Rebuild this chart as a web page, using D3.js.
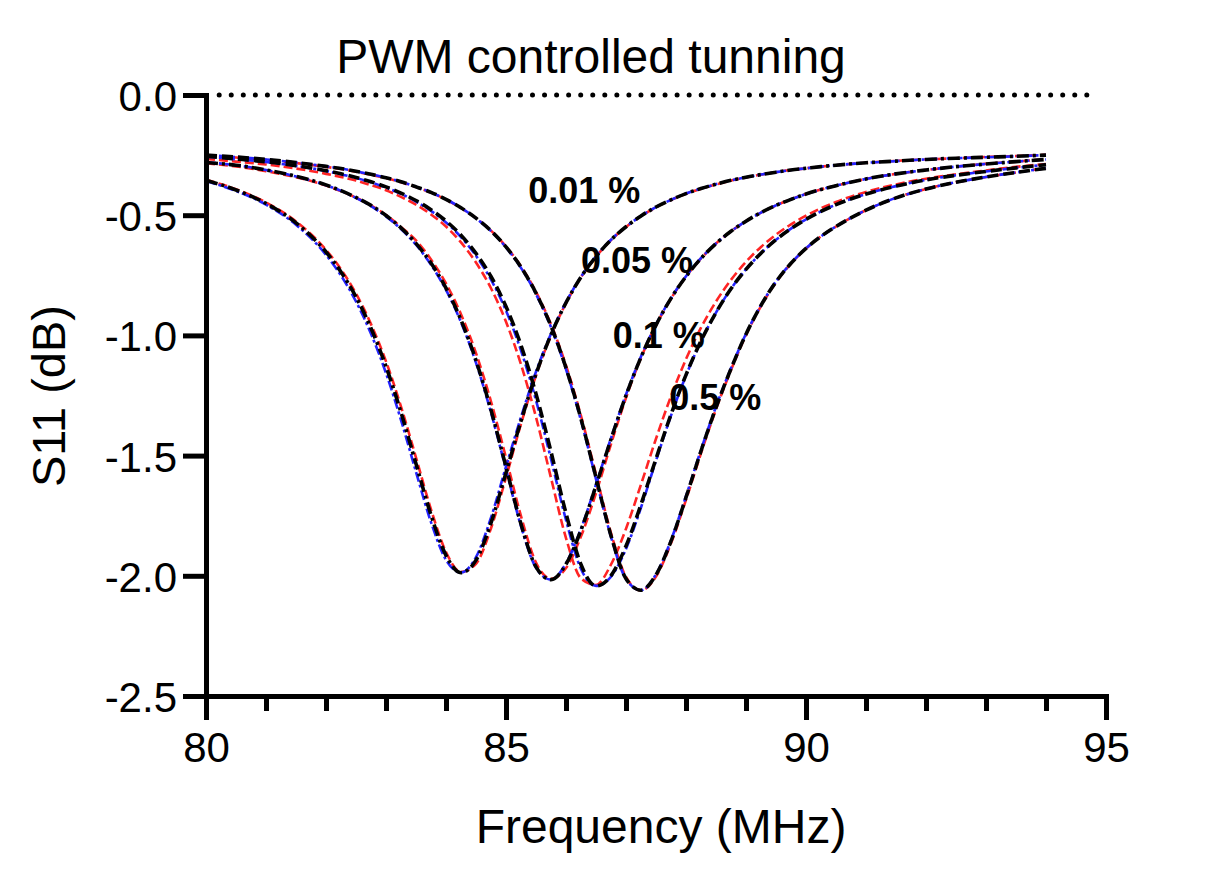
<!DOCTYPE html>
<html>
<head>
<meta charset="utf-8">
<script src="https://cdn.jsdelivr.net/npm/d3@7"></script>
<style>
  body { margin: 0; background: #fff; }
  svg { display: block; font-family: "Liberation Sans", Arial, Helvetica, sans-serif; }
</style>
</head>
<body>
<script>
// frequency grid (MHz), denser around the dips
const freq = [80, 80.5, 81, 81.5, 82, 82.25, 82.5, 82.75, 83, 83.25, 83.5, 83.75, 84, 84.25, 84.5, 84.75,
  85, 85.25, 85.5, 85.75, 86, 86.25, 86.5, 86.75, 87, 87.25, 87.5, 87.75, 88, 88.25, 88.5, 88.75,
  89, 89.25, 89.5, 89.75, 90, 90.25, 90.5, 91, 91.5, 92, 92.5, 93, 93.5, 94];

// S11 (dB)
const pwm001Black = [-0.355, -0.395, -0.451, -0.532, -0.653, -0.736, -0.840, -0.970, -1.129, -1.320, -1.534, -1.747, -1.915, -1.987, -1.935, -1.780,
  -1.571, -1.356, -1.161, -0.997, -0.864, -0.757, -0.672, -0.603, -0.548, -0.503, -0.466, -0.436, -0.410, -0.389, -0.371, -0.355,
  -0.342, -0.331, -0.321, -0.312, -0.305, -0.298, -0.292, -0.282, -0.275, -0.268, -0.263, -0.259, -0.255, -0.250];
const pwm001Blue = [-0.358, -0.399, -0.456, -0.540, -0.665, -0.751, -0.859, -0.993, -1.157, -1.352, -1.568, -1.777, -1.934, -1.986, -1.922, -1.758,
  -1.546, -1.340, -1.151, -0.993, -0.862, -0.756, -0.671, -0.602, -0.548, -0.503, -0.466, -0.436, -0.410, -0.389, -0.371, -0.355,
  -0.342, -0.331, -0.321, -0.312, -0.305, -0.298, -0.292, -0.282, -0.275, -0.268, -0.263, -0.259, -0.255, -0.250];
const pwm001Red = [-0.353, -0.392, -0.447, -0.526, -0.644, -0.725, -0.826, -0.953, -1.108, -1.296, -1.508, -1.724, -1.901, -1.984, -1.950, -1.802,
  -1.591, -1.368, -1.166, -1.000, -0.866, -0.758, -0.673, -0.604, -0.549, -0.504, -0.467, -0.437, -0.411, -0.390, -0.372, -0.356,
  -0.343, -0.331, -0.321, -0.312, -0.305, -0.298, -0.292, -0.282, -0.274, -0.268, -0.263, -0.258, -0.254, -0.249];

const pwm005Black = [-0.281, -0.292, -0.312, -0.338, -0.374, -0.398, -0.426, -0.459, -0.501, -0.553, -0.617, -0.699, -0.803, -0.936, -1.104, -1.310,
  -1.547, -1.785, -1.963, -2.016, -1.952, -1.810, -1.626, -1.432, -1.250, -1.091, -0.957, -0.846, -0.755, -0.680, -0.618, -0.567,
  -0.525, -0.489, -0.459, -0.434, -0.412, -0.393, -0.377, -0.349, -0.328, -0.312, -0.298, -0.287, -0.277, -0.268];
const pwm005Blue = [-0.280, -0.292, -0.312, -0.339, -0.375, -0.399, -0.428, -0.462, -0.505, -0.558, -0.623, -0.706, -0.811, -0.945, -1.114, -1.321,
  -1.557, -1.793, -1.967, -2.016, -1.948, -1.804, -1.620, -1.427, -1.246, -1.088, -0.955, -0.845, -0.754, -0.679, -0.618, -0.567,
  -0.525, -0.489, -0.459, -0.434, -0.412, -0.393, -0.377, -0.349, -0.328, -0.312, -0.298, -0.287, -0.277, -0.268];
const pwm005Red = [-0.284, -0.297, -0.317, -0.342, -0.377, -0.400, -0.427, -0.459, -0.499, -0.549, -0.605, -0.684, -0.784, -0.912, -1.074, -1.275,
  -1.509, -1.752, -1.945, -2.012, -1.968, -1.836, -1.656, -1.452, -1.260, -1.093, -0.958, -0.847, -0.755, -0.680, -0.618, -0.567,
  -0.525, -0.489, -0.459, -0.434, -0.412, -0.393, -0.377, -0.349, -0.328, -0.312, -0.298, -0.286, -0.277, -0.267];

const pwm01Black = [-0.255, -0.266, -0.278, -0.294, -0.315, -0.328, -0.343, -0.361, -0.382, -0.408, -0.439, -0.477, -0.524, -0.583, -0.659, -0.755,
  -0.880, -1.041, -1.243, -1.484, -1.740, -1.953, -2.042, -1.999, -1.876, -1.703, -1.513, -1.329, -1.164, -1.023, -0.905, -0.806,
  -0.725, -0.658, -0.602, -0.556, -0.517, -0.484, -0.456, -0.412, -0.379, -0.353, -0.334, -0.318, -0.303, -0.290];
const pwm01Blue = [-0.256, -0.267, -0.279, -0.295, -0.316, -0.330, -0.345, -0.363, -0.385, -0.411, -0.443, -0.482, -0.530, -0.591, -0.669, -0.768,
  -0.897, -1.063, -1.270, -1.514, -1.768, -1.972, -2.042, -2.004, -1.888, -1.716, -1.521, -1.334, -1.167, -1.024, -0.905, -0.806,
  -0.725, -0.658, -0.602, -0.556, -0.517, -0.484, -0.456, -0.412, -0.379, -0.353, -0.334, -0.318, -0.303, -0.290];
const pwm01Red = [-0.266, -0.277, -0.289, -0.306, -0.328, -0.341, -0.356, -0.375, -0.396, -0.424, -0.456, -0.497, -0.547, -0.613, -0.697, -0.804,
  -0.943, -1.121, -1.340, -1.593, -1.843, -2.011, -2.038, -1.953, -1.804, -1.620, -1.430, -1.253, -1.099, -0.968, -0.859, -0.769,
  -0.694, -0.632, -0.581, -0.538, -0.502, -0.471, -0.445, -0.403, -0.372, -0.348, -0.330, -0.314, -0.299, -0.287];

const pwm05Black = [-0.250, -0.258, -0.268, -0.281, -0.297, -0.306, -0.317, -0.330, -0.344, -0.361, -0.382, -0.405, -0.434, -0.469, -0.512, -0.565,
  -0.632, -0.716, -0.824, -0.961, -1.135, -1.347, -1.591, -1.833, -2.012, -2.060, -1.996, -1.856, -1.674, -1.481, -1.300, -1.139,
  -0.995, -0.875, -0.777, -0.700, -0.638, -0.588, -0.547, -0.479, -0.428, -0.391, -0.363, -0.341, -0.322, -0.305];
const pwm05Blue = [-0.250, -0.258, -0.268, -0.281, -0.297, -0.306, -0.317, -0.330, -0.344, -0.361, -0.382, -0.405, -0.434, -0.469, -0.513, -0.566,
  -0.634, -0.719, -0.828, -0.966, -1.141, -1.354, -1.598, -1.838, -2.014, -2.060, -1.994, -1.852, -1.669, -1.476, -1.296, -1.136,
  -0.993, -0.874, -0.776, -0.700, -0.638, -0.588, -0.547, -0.479, -0.428, -0.391, -0.363, -0.341, -0.322, -0.305];
const pwm05Red = [-0.252, -0.260, -0.270, -0.283, -0.299, -0.308, -0.319, -0.332, -0.346, -0.363, -0.383, -0.406, -0.435, -0.470, -0.512, -0.564,
  -0.630, -0.713, -0.819, -0.954, -1.125, -1.335, -1.578, -1.822, -2.005, -2.061, -2.003, -1.865, -1.684, -1.490, -1.307, -1.144,
  -0.999, -0.878, -0.779, -0.701, -0.639, -0.588, -0.547, -0.479, -0.428, -0.391, -0.363, -0.341, -0.322, -0.304];

// duty-cycle labels placed next to the curves: [text, MHz, dB]
const dutyLabels = [["0.01 %", 85.37, -0.45], ["0.05 %", 86.25, -0.742], ["0.1 %", 86.78, -1.054], ["0.5 %", 87.72, -1.31]];

const yTicks = [0, -0.5, -1, -1.5, -2, -2.5];
const yTickLabels = ["0.0", "-0.5", "-1.0", "-1.5", "-2.0", "-2.5"];
const xTicks = [80, 85, 90, 95];
const xMinorTicks = [81, 82, 83, 84, 86, 87, 88, 89, 91, 92, 93, 94];
const zeroLine = [[80.22, 0], [94.88, 0]];

const width = 1221, height = 880;

const svg = d3.select("body").append("svg")
  .attr("width", width)
  .attr("height", height);

const x = d3.scaleLinear().domain([80, 95]).range([206, 1106]);
const y = d3.scaleLinear().domain([-2.5, 0]).range([696, 95]);

const red = "#ff2424", blue = "#2323ff";
const series = [
  { values: pwm001Red, color: red, dash: "9 4", w: 2.6 },
  { values: pwm005Red, color: red, dash: "9 4", w: 2.6 },
  { values: pwm01Red, color: red, dash: "9 4", w: 2.6 },
  { values: pwm05Red, color: red, dash: "9 4", w: 2.6 },
  { values: pwm001Blue, color: blue, dash: "10 3 3 3", w: 2.6 },
  { values: pwm005Blue, color: blue, dash: "10 3 3 3", w: 2.6 },
  { values: pwm01Blue, color: blue, dash: "10 3 3 3", w: 2.6 },
  { values: pwm05Blue, color: blue, dash: "10 3 3 3", w: 2.6 },
  { values: pwm001Black, color: "#000", dash: "12 4 3 4", w: 3.6 },
  { values: pwm005Black, color: "#000", dash: "12 4 3 4", w: 3.6 },
  { values: pwm01Black, color: "#000", dash: "11 5", w: 3.6 },
  { values: pwm05Black, color: "#000", dash: "11 5", w: 3.6 },
];

const line = d3.line()
  .x(d => x(d[0]))
  .y(d => y(d[1]))
  .curve(d3.curveMonotoneX);

// dotted 0 dB reference
svg.append("path")
  .attr("d", line(zeroLine))
  .attr("fill", "none")
  .attr("stroke", "#000")
  .attr("stroke-width", 5)
  .attr("stroke-linecap", "round")
  .attr("stroke-dasharray", "0 12.05");

svg.append("g")
  .selectAll("path")
  .data(series)
  .join("path")
  .attr("d", d => line(freq.map((f, i) => [f, d.values[i]])))
  .attr("fill", "none")
  .attr("stroke", d => d.color)
  .attr("stroke-width", d => d.w)
  .attr("stroke-dasharray", d => d.dash);

// axes
const yAxis = svg.append("g")
  .attr("transform", `translate(${x(80)},0)`)
  .call(d3.axisLeft(y).tickValues(yTicks).tickSize(23).tickSizeOuter(0).tickPadding(6)
    .tickFormat((d, i) => yTickLabels[i]));

const xMinor = svg.append("g")
  .attr("transform", `translate(0,${y(-2.5)})`)
  .call(d3.axisBottom(x).tickValues(xMinorTicks).tickSize(15).tickSizeOuter(0).tickFormat(""));

const xAxis = svg.append("g")
  .attr("transform", `translate(0,${y(-2.5)})`)
  .call(d3.axisBottom(x).tickValues(xTicks).tickSize(24).tickSizeOuter(0).tickPadding(12)
    .tickFormat(d3.format("d")));

[yAxis, xMinor, xAxis].forEach(g => {
  g.attr("font-family", null).attr("font-size", 42).attr("color", "#000");
  g.select(".domain").attr("stroke-width", 5).attr("stroke-linecap", "square");
  g.selectAll(".tick line").attr("stroke-width", 5);
});
yAxis.selectAll(".tick text").attr("dy", "0.37em");

// titles
svg.append("text")
  .attr("x", 591)
  .attr("y", 73)
  .attr("text-anchor", "middle")
  .attr("font-size", 48)
  .text("PWM controlled tunning");

svg.append("text")
  .attr("x", 661)
  .attr("y", 843)
  .attr("text-anchor", "middle")
  .attr("font-size", 48)
  .text("Frequency (MHz)");

svg.append("text")
  .attr("transform", "translate(65,396) rotate(-90)")
  .attr("text-anchor", "middle")
  .attr("font-size", 47)
  .text("S11 (dB)");

svg.append("g")
  .selectAll("text")
  .data(dutyLabels)
  .join("text")
  .attr("x", d => x(d[1]))
  .attr("y", d => y(d[2]))
  .attr("font-size", 36)
  .attr("font-weight", "bold")
  .text(d => d[0]);
</script>
</body>
</html>
